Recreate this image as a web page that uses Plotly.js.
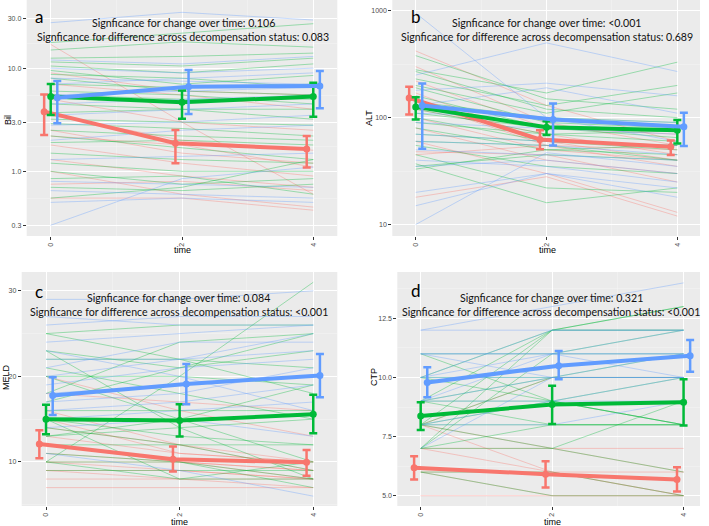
<!DOCTYPE html>
<html>
<head>
<meta charset="utf-8">
<script src="https://cdn.plot.ly/plotly-3.0.1.min.js"></script>
<style>html,body{margin:0;padding:0;background:#fff;}#chart{width:709px;height:526px;}</style>
</head>
<body>
<div id="chart"></div>
<script>
// ---------------- DATA ----------------
const timeVals = [0, 2, 4];
const groupColors = ['#F8766D', '#00BA38', '#619CFF'];

// Panel a: Bil (individual trajectories at time 0, 2, 4)
const bilRed = [[17,3,0.6],[9,6,5.5],[7,5.5,4],[5,3,2.5],[3.5,2,1.6],[2.5,1.5,1.2],[1.8,1.2,0.9],[1.3,0.9,0.7],[1,0.6,0.45],[0.75,0.8,0.65],[0.55,0.55,0.42],[2.2,1.8,1.1]];
const bilGreen = [[17.7,22,27],[12.5,13,14],[11.5,10.5,12.5],[10.5,9,11],[9.5,7,8.5],[8.7,8,6.5],[8,6,5.5],[7,6.5,7],[6,5.5,4.5],[5.5,5,5],[4.5,4,3.2],[3.7,4,4],[3.2,3,2.8],[2.9,2.6,2.2],[2.5,2.2,2],[2.2,1.7,1.3],[1.9,2,1.8],[1.5,1.3,1.2],[1.2,1,1],[1,0.75,0.85],[0.85,0.9,0.6],[0.7,0.65,0.75],[0.55,0.7,1.3],[15,18,16]];
const bilBlue = [[27.6,34.8,29.3],[12,11,13],[10,9,10],[8,7.5,7],[7,8,9],[5.5,6,6.5],[4.5,5,5.5],[3.5,4,4.5],[2.8,3,3.5],[2,2.5,2.8],[1.3,1.4,1.5],[0.8,0.75,0.7],[0.65,0.6,0.55],[0.3,0.85,1.1],[0.5,0.55,0.5]];
const bilMean = {red:[3.79,1.87,1.65], green:[5.30,4.67,5.30], blue:[5.18,6.62,6.72]};
const bilUpper = {red:[5.57,2.52,2.20], green:[7.03,6.06,7.24], blue:[7.52,9.61,9.40]};
const bilLower = {red:[2.25,1.20,1.09], green:[3.52,3.24,3.39], blue:[2.92,3.60,4.08]};

// Panel b: ALT
const altRed = [[420,130,60],[300,90,55],[220,80,70],[170,60,40],[140,55,35],[120,70,45],[100,50,40],[80,40,30],[60,30,13],[48,45,25],[18,28,12],[45,55,50]];
const altGreen = [[380,150,120],[280,170,330],[270,120,100],[230,130,200],[200,110,170],[190,90,80],[160,80,65],[140,100,90],[120,70,60],[110,80,75],[100,60,50],[90,70,75],[80,50,45],[70,60,55],[60,55,40],[55,35,30],[45,22,20],[37,16,22],[35,45,40],[33,50,55]];
const altBlue = [[950,100,60],[250,500,270],[180,210,160],[130,190,110],[110,100,90],[90,80,70],[70,60,55],[60,55,45],[50,45,40],[40,35,25],[35,40,30],[15,30,22],[10,47,35],[20,30,18]];
const altMean = {red:[153,62.5,53.4], green:[126,81.5,76.4], blue:[130,96.1,82]};
const altUpper = {red:[194,76.4,61.2], green:[155,92.7,94.8], blue:[208,135.6,111]};
const altLower = {red:[107,50.5,44.7], green:[96,68.7,57.4], blue:[51.2,55,54.2]};

// Panel c: MELD
const meldRed = [[20,16,13],[18,17,16],[16,12,10],[14,12,9],[13,11,10],[12,10,9],[11,10,8],[10,9,8],[9,9,8],[8,8,8],[7,7,7],[9,8,7],[15,11,10],[10,10,9]];
const meldGreen = [[10,20,31],[25,26,26],[25,22,18],[23,21,25],[23,14,8],[22,22,21],[21,18,15],[20,15,10],[18,24,25],[17,21,23],[16,16,16],[15,13,12],[14,12,9],[13,15,19],[12,12,12],[11,10,7],[10,10,8],[10,8,8],[15,8,10],[9,9,9],[13,14,15],[20,20,19]];
const meldBlue = [[29,29,30],[26,27,27],[27,26,26],[24,25,26],[22,22,25],[21,24,24],[20,22,23],[19,21,22],[18,19,20],[17,18,21],[16,17,19],[15,16,17],[14,15,13],[23,20,16],[11,9,6]];
const meldMean = {red:[12.1,10.31,9.96], green:[14.99,14.83,15.57], blue:[17.76,19.12,20.10]};
const meldUpper = {red:[13.7,11.79,11.40], green:[16.67,16.74,17.84], blue:[19.90,21.46,22.63]};
const meldLower = {red:[10.43,8.87,8.40], green:[13.24,12.96,13.35], blue:[15.50,16.74,17.56]};

// Panel d: CTP
const ctpRed = [[8,7,6],[7,7,7],[6,6,6],[5,5,5],[8,6,5],[6,5,5],[7,6,5],[8,10,10]];
const ctpGreen = [[9,12,13],[10,12,12],[8,12,13],[7,12,12],[11,11,12],[10,10,11],[9,10,10],[9,9,8],[8,10,10],[8,8,8],[8,9,10],[7,8,8],[7,7,9],[6,6,5],[6,5,5],[8,7,6],[10,9,8],[9,8,8],[11,9,8],[7,11,11]];
const ctpBlue = [[12,13,14],[12,12,12],[11,11,11],[11,11,10],[10,11,12],[10,10,10],[9,10,11],[9,11,11],[9,9,9],[8,9,10],[7,10,10],[8,8,9],[10,12,12],[11,10,10]];
const ctpMean = {red:[6.18,5.91,5.69], green:[8.37,8.86,8.95], blue:[9.79,10.50,10.92]};
const ctpUpper = {red:[6.67,6.46,6.20], green:[8.95,9.65,9.93], blue:[10.43,11.12,11.58]};
const ctpLower = {red:[5.69,5.35,5.18], green:[7.78,8.03,7.97], blue:[9.16,9.92,10.24]};

const panelLetters = ['a','b','c','d'];
const yTitles = ['Bil','ALT','MELD','CTP'];
const sigTime = ['0.106','<0.001','0.084','0.321'];
const sigStatus = ['0.083','0.689','<0.001','<0.001'];

// ---------------- BUILD ----------------
const W = 709, H = 526;
const px = x => x / W;
const py = y => 1 - y / H;
const faint = ['rgba(248,118,109,0.45)','rgba(0,186,56,0.45)','rgba(97,156,255,0.45)'];
const dodge = [-0.1, 0, 0.1];
const traces = [];

function addPanel(ax, groupsLines, mean, upper, lower) {
  const xa = 'x' + ax, ya = 'y' + ax;
  groupsLines.forEach((lines, gi) => {
    lines.forEach(row => {
      traces.push({x: timeVals, y: row, xaxis: xa, yaxis: ya, mode: 'lines',
        line: {color: faint[gi], width: 0.8}, hoverinfo: 'skip', showlegend: false});
    });
  });
  ['red','green','blue'].forEach((k, gi) => {
    const m = mean[k], u = upper[k], l = lower[k];
    traces.push({
      x: timeVals.map(t => t + dodge[gi]), y: m, xaxis: xa, yaxis: ya,
      mode: 'lines+markers', showlegend: false,
      line: {color: groupColors[gi], width: 4},
      marker: {color: groupColors[gi], size: 7},
      error_y: {type: 'data', symmetric: false,
        array: u.map((v, i) => v - m[i]), arrayminus: l.map((v, i) => m[i] - v),
        color: groupColors[gi], thickness: 2.5, width: 4}
    });
  });
}
addPanel('', [bilRed, bilGreen, bilBlue], bilMean, bilUpper, bilLower);
addPanel('2', [altRed, altGreen, altBlue], altMean, altUpper, altLower);
addPanel('3', [meldRed, meldGreen, meldBlue], meldMean, meldUpper, meldLower);
addPanel('4', [ctpRed, ctpGreen, ctpBlue], ctpMean, ctpUpper, ctpLower);

const tickFont = {family: 'Liberation Sans, Arial, sans-serif', size: 7, color: '#4D4D4D'};
function xAxis(domain, range) {
  return {domain: domain, range: range, tickvals: timeVals, ticktext: ['0','2','4'],
    tickangle: -90, ticks: 'outside', ticklen: 3, tickcolor: '#333333', tickfont: tickFont,
    showgrid: true, gridcolor: '#FFFFFF', gridwidth: 1, zeroline: false, showline: false,
    minor: {tickvals: [1, 3], showgrid: true, gridcolor: '#F5F5F5', gridwidth: 0.5, ticklen: 0}};
}
function yAxis(domain, range, type, tv, tt, minorVals, anchor) {
  return {domain: domain, range: range, type: type, tickvals: tv, ticktext: tt, anchor: anchor,
    ticks: 'outside', ticklen: 3, tickcolor: '#333333', tickfont: tickFont,
    showgrid: true, gridcolor: '#FFFFFF', gridwidth: 1, zeroline: false, showline: false,
    minor: {tickvals: minorVals, showgrid: true, gridcolor: '#F5F5F5', gridwidth: 0.5, ticklen: 0}};
}

const domTop = [py(236), py(0)];
const domBot = [py(506), py(272)];
const layout = {
  width: W, height: H, margin: {l: 0, r: 0, t: 0, b: 0},
  paper_bgcolor: '#FFFFFF', plot_bgcolor: '#EBEBEB', showlegend: false,
  xaxis: Object.assign(xAxis([px(26.7), px(337.3)], [-0.366, 4.366]), {anchor: 'y'}),
  yaxis: yAxis(domTop, [-0.627, 1.661], 'log', [0.3,1,3,10,30], ['0.3','1.0','3.0','10.0','30.0'], [0.548,1.73,5.48,17.3], 'x'),
  xaxis2: Object.assign(xAxis([px(392.3), px(700)], [-0.358, 4.347]), {anchor: 'y2'}),
  yaxis2: yAxis(domTop, [0.893, 3.100], 'log', [10,100,1000], ['10','100','1000'], [31.6,316], 'x2'),
  xaxis3: Object.assign(xAxis([px(21.7), px(337.3)], [-0.364, 4.36]), {anchor: 'y3'}),
  yaxis3: yAxis(domBot, [4.85, 32.2], 'linear', [10,20,30], ['10','20','30'], [5,15,25], 'x3'),
  xaxis4: Object.assign(xAxis([px(397.3), px(700)], [-0.356, 4.25]), {anchor: 'y4'}),
  yaxis4: yAxis(domBot, [4.565, 14.46], 'linear', [5,7.5,10,12.5], ['5.0','7.5','10.0','12.5'], [6.25,8.75,11.25,13.75], 'x4'),
  annotations: []
};

const letterPos = [[39,16],[416,16],[39,291],[416,290]];
const sigPos = [[183,23.3,36.7],[546.5,23,36.7],[178.5,297.7,311.7],[551,297.7,311.7]];
const yTitlePos = [[8,120],[369,118],[6,377],[374,377]];
const timePos = [[182,250],[547,250],[179,521.5],[552,521.5]];
const sigFont = {family: 'Lato, Open Sans, sans-serif', size: 10.6, color: '#111111'};
for (let i = 0; i < 4; i++) {
  layout.annotations.push({text: panelLetters[i], xref: 'paper', yref: 'paper', x: px(letterPos[i][0]), y: py(letterPos[i][1]),
    showarrow: false, xanchor: 'center', yanchor: 'middle', font: {family: 'Lato, sans-serif', size: 17, color: '#000'}});
  layout.annotations.push({text: 'Signficance for change over time: ' + sigTime[i], xref: 'paper', yref: 'paper',
    x: px(sigPos[i][0]), y: py(sigPos[i][1]), showarrow: false, xanchor: 'center', yanchor: 'middle', font: sigFont});
  layout.annotations.push({text: 'Signficance for difference across decompensation status: ' + sigStatus[i], xref: 'paper', yref: 'paper',
    x: px(sigPos[i][0]), y: py(sigPos[i][2]), showarrow: false, xanchor: 'center', yanchor: 'middle', font: sigFont});
  layout.annotations.push({text: yTitles[i], xref: 'paper', yref: 'paper', x: px(yTitlePos[i][0]), y: py(yTitlePos[i][1]),
    showarrow: false, textangle: -90, xanchor: 'center', yanchor: 'middle',
    font: {family: 'Liberation Sans, Arial, sans-serif', size: 9, color: '#000'}});
  layout.annotations.push({text: 'time', xref: 'paper', yref: 'paper', x: px(timePos[i][0]), y: py(timePos[i][1]),
    showarrow: false, xanchor: 'center', yanchor: 'middle',
    font: {family: 'Liberation Sans, Arial, sans-serif', size: 9, color: '#000'}});
}

Plotly.newPlot('chart', traces, layout, {staticPlot: true, displayModeBar: false});
</script>
</body>
</html>
